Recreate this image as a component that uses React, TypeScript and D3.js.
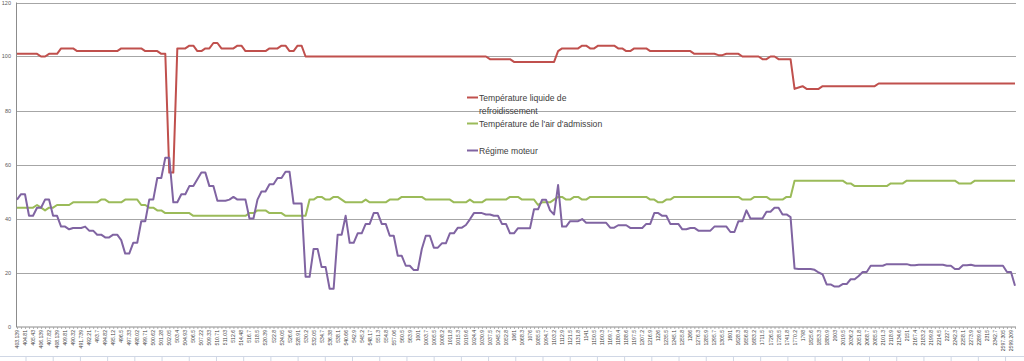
import React from "react";
import * as d3 from "d3";

const coolantTemp = [
  101,101,101,101,101,101,100,100,101,101,
  101,103,103,103,103,102,102,102,102,102,
  102,102,102,102,102,102,103,103,103,103,
  103,103,102,102,102,102,101,101,57,57,
  103,103,103,104,104,102,102,103,103,105,
  105,103,103,103,103,104,104,102,102,102,
  102,102,102,103,103,103,104,104,102,102,
  104,104,100,100,100,100,100,100,100,100,
  100,100,100,100,100,100,100,100,100,100,
  100,100,100,100,100,100,100,100,100,100,
  100,100,100,100,100,100,100,100,100,100,
  100,100,100,100,100,100,100,100,99,99,
  99,99,99,99,98,98,98,98,98,98,
  98,98,98,98,98,102,103,103,103,103,
  103,104,104,103,103,104,104,104,104,104,
  103,103,102,102,103,103,103,103,102,102,
  102,102,102,102,102,102,102,102,102,101,
  101,101,101,101,101,100.5,100.5,101,101,101,
  101,100,100,100,100,100,99,99,100,100,
  99,99,99,99,88,88.5,89,88,88,88,
  88,89,89,89,89,89,89,89,89,89,
  89,89,89,89,89,90,90,90,90,90,
  90,90,90,90,90,90,90,90,90,90,
  90,90,90,90,90,90,90,90,90,90,
  90,90,90,90,90,90,90,90,90,90,
];

const intakeAirTemp = [
  44,44,44,44,44,45,44,43,44,44,
  45,45,45,45,46,46,46,46,46,46,
  46,47,47,46,46,46,46,47,47,47,
  47,45,45,44,44,43,43,42,42,42,
  42,42,42,42,41,41,41,41,41,41,
  41,41,41,41,41,41,41,41,42,42,
  43,43,43,42,42,42,42,41,41,41,
  41,41,41,47,47,48,48,47,47,48,
  48,47,46,46,46,46,46,47,46,46,
  46,46,46,47,47,47,48,48,48,48,
  48,48,47,47,47,47,47,47,47,46,
  46,46,46,47,46,46,46,47,47,47,
  47,47,47,48,48,48,47,47,47,47,
  45,46,46,46,47,48,48,47,47,48,
  48,47,47,48,48,48,48,48,48,48,
  48,48,48,48,48,48,48,48,47,47,
  46,46,47,47,48,48,48,48,48,48,
  48,48,48,48,48,48,48,48,48,48,
  48,47,47,47,48,48,48,48,47,47,
  47,47,48,48,54,54,54,54,54,54,
  54,54,54,54,54,54,54,53,53,52,
  52,52,52,52,52,52,52,52,53,53,
  53,53,54,54,54,54,54,54,54,54,
  54,54,54,54,54,53,53,53,53,54,
  54,54,54,54,54,54,54,54,54,54,
];

const engineSpeed = [
  47,49,49,41,41,44,44,47,47,41,
  41,37,37,36,36.5,36.5,36.5,37,35.5,35.5,
  34,34,33,33,34,34,32,27,27,31,
  31,39,39,47,47,55,55,62.5,62.5,46,
  46,49,49,52,52,54.5,57,57,52,52,
  46.6,46.6,46.6,47,48,47,47,47,40,40,
  47,50,50,52.7,52.7,55,55,57.3,57.3,45.6,
  45.6,45.6,18.4,18.4,28.7,28.7,22,22,14,14,
  34,34,41,31,31,34.5,34.5,38,38,42,
  42,38,38,33.6,33.6,26.2,26.2,22.5,22.5,20.9,
  20.9,28.7,33.6,33.6,29.2,29.2,30.8,30.8,34.5,34.5,
  36.6,36.6,37.6,39.7,42,42,42,41.5,41.5,41,
  41,38,38,34.5,34.5,36.4,36.4,36.4,36.4,43.4,
  43.4,46.9,46.9,43,41.5,52.4,37,37,39,39,
  39,39.8,38.4,38.4,38.4,38.4,38.4,38.4,36.6,36.6,
  37.5,37.5,37.5,36.5,36.5,36.5,36.5,38,38,42,
  42,41,41,38,38,38,36,36,36.5,36.5,
  35.5,35.5,35.5,35.5,37,37,37,37,35,35,
  39,39,43,40,40,40,40,42.5,42.5,44,
  44,41.5,41.5,40.5,21.5,21.3,21.3,21.3,21.3,21,
  20,19.3,15.6,15.6,14.8,14.8,15.7,15.7,17.5,17.5,
  18.7,20.2,20.2,22.5,22.5,22.5,22.5,23.1,23.1,23.1,
  23.1,23.1,23.1,22.7,22.7,22.9,22.9,22.9,22.9,22.9,
  22.9,22.9,22.5,22.5,21.3,21.3,22.7,22.7,22.9,22.5,
  22.5,22.5,22.5,22.5,22.5,22.5,22.5,20.2,20.2,15.1,
];

const tickLabels = [
  "403.139","404.81","405.43","406.139","407.82","408.139","409.81","490.32","491.739","492.21",
  "493.7","494.82","495.12","496.5","497.33","498.02","499.71","500.62","501.28","502.05",
  "503.4","504.93","506.5","507.22","509.33","510.71","511.03","512.6","514.48","516.7",
  "518.5","520.39","522.8","524.05","526.6","528.91","530.2","532.05","534.7","536.38",
  "538.1","540.66","542.9","545.2","548.17","551.3","554.8","557.06","560.5","563.9",
  "1001","1003.7","1005.5","1008.2","1011.8","1015.3","1019.6","1024.4","1030.9","1037.5",
  "1045.2","1052.8","1061","1068.3","1076","1085.5","1094.7","1103.2","1112.9","1121.5",
  "1131.8","1141","1150.5","1160.3","1169.7","1180.4","1188.6","1197.5","1207.2","1216.9",
  "1226","1235.5","1245.1","1255.8","1266","1276.3","1285.9","1295.7","1305.5","1601",
  "1628.3","1656.8","1683.2","1711.5","1726.5","1728.5","1741.8","1770.2","1798","1825.6",
  "1853.3","1880.9","2003","2019.5","2036.2","2051.8","2068.7","2085.5","2101.3","2118.9",
  "2134.6","2151","2167.4","2183.2","2199.8","2214.5","2227","2242.3","2258.1","2273.9",
  "2289.6","2315","2342.7","2597.305","2599.209",
];

const yTicks = [0, 20, 40, 60, 80, 100, 120];

const seriesNames = [
  ["Température liquide de", "refroidissement"],
  ["Température de l'air d'admission"],
  ["Régime moteur"],
];
const seriesColors = ["#C0504D", "#9BBB59", "#8064A2"];

const W = 1024;
const H = 361;
const FONT = "'Liberation Sans', Arial, sans-serif";

export default function App() {
  const N = coolantTemp.length;
  const x = d3.scalePoint<number>().domain(d3.range(N)).range([17, 1015]);
  const y = d3.scaleLinear().domain([0, 120]).range([326.5, 2.5]);
  const line = d3
    .line<number>()
    .x((_, i) => x(i) as number)
    .y((d) => y(d));

  const series = [coolantTemp, intakeAirTemp, engineSpeed];
  const legendY = [97.5, 123.5, 150.5];
  const cellLines = d3.range(0, 37).map((k) => 26 + k * 27.21);

  return (
    <svg
      width={W}
      height={H}
      style={{ position: "absolute", left: 0, top: 0, background: "#fff" }}
    >
      <rect x={0} y={0} width={W} height={H} fill="#fff" />
      <line x1={0} x2={W} y1={356.5} y2={356.5} stroke="#d0d7e5" />
      {cellLines.map((cx, k) => (
        <line key={k} x1={cx} x2={cx} y1={356.5} y2={H} stroke="#d0d7e5" />
      ))}
      {yTicks.slice(1).map((t) => (
        <line
          key={t}
          x1={16}
          x2={1016}
          y1={Math.round(y(t)) + 0.5}
          y2={Math.round(y(t)) + 0.5}
          stroke="#a6a6a6"
          strokeWidth={1}
        />
      ))}
      <line x1={16.5} x2={16.5} y1={2.5} y2={327} stroke="#8c8c8c" />
      {yTicks.map((t) => (
        <text
          key={t}
          x={11}
          y={Math.round(y(t)) + 2}
          fontSize={5.5}
          fontFamily={FONT}
          fill="#595959"
          textAnchor="end"
        >
          {t}
        </text>
      ))}
      <line x1={16} x2={1016} y1={327} y2={327} stroke="#8c8c8c" />
      {d3.range(N).map((i) => (
        <line
          key={i}
          x1={(x(i) as number) + 0.5}
          x2={(x(i) as number) + 0.5}
          y1={327}
          y2={329}
          stroke="#a0a0a0"
          strokeWidth={0.8}
        />
      ))}
      {tickLabels.map((lab, k) => {
        const px = x(k * 2) as number;
        return (
          <text
            key={k}
            transform={`translate(${px + 2},${330}) rotate(-90)`}
            fontSize={5.1}
            fontFamily={FONT}
            fill="#404040"
            textAnchor="end"
          >
            {lab}
          </text>
        );
      })}
      {series.map((s, k) => (
        <path
          key={k}
          d={line(s) as string}
          fill="none"
          stroke={seriesColors[k]}
          strokeWidth={2}
          strokeLinejoin="round"
        />
      ))}
      {seriesNames.map((names, k) => (
        <g key={k}>
          <line
            x1={467}
            x2={478}
            y1={legendY[k]}
            y2={legendY[k]}
            stroke={seriesColors[k]}
            strokeWidth={2}
          />
          {names.map((nm, j) => (
            <text
              key={j}
              x={479}
              y={legendY[k] + 3 + j * 13}
              fontSize={8.6}
              fontFamily={FONT}
              fill="#404040"
            >
              {nm}
            </text>
          ))}
        </g>
      ))}
    </svg>
  );
}
